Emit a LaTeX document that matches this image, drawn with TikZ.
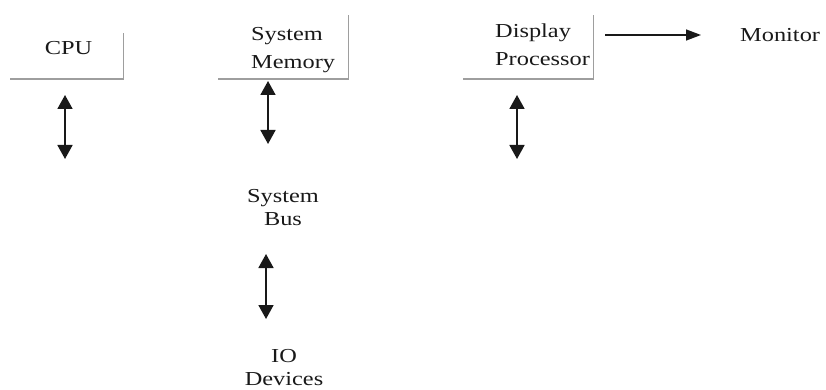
\documentclass[tikz,border=0pt]{standalone}
\usepackage{fontspec}
\setmainfont{Liberation Serif}[FakeStretch=1.23]
\usetikzlibrary{arrows.meta}
\begin{document}
\begin{tikzpicture}[x=1pt,y=-1pt,
  boxline/.style={draw=black!38, line width=1.4pt},
  boxarea/.style={inner sep=0pt, anchor=south west},
  lbl/.style={inner sep=0pt, font=\fontsize{19.8}{28}\selectfont, text=black!90},
  dbl/.style={{Triangle[width=15pt,length=14pt]}-{Triangle[width=15pt,length=14pt]}, line width=1.8pt, draw=black!90},
  sgl/.style={-{Triangle[width=11pt,length=15pt]}, line width=1.4pt, draw=black!90}
]
\useasboundingbox (0,0) rectangle (826,390);
% boxes (only right and bottom edges shown)
\node[boxarea, minimum width=113pt, minimum height=46pt] (cpubox) at (10,79) {};
\node[boxarea, minimum width=130pt, minimum height=64pt] (membox) at (218,79) {};
\node[boxarea, minimum width=130pt, minimum height=64pt] (dpbox) at (463,79) {};
\draw[boxline] (cpubox.south west) -- (cpubox.south east) -- (cpubox.north east);
\draw[boxline] (membox.south west) -- (membox.south east) -- (membox.north east);
\draw[boxline] (dpbox.south west) -- (dpbox.south east) -- (dpbox.north east);
% labels
\node[lbl, anchor=base] (cpu) at (68.5,55) {CPU};
\node[lbl, anchor=base west] (mem1) at (251,41) {System};
\node[lbl, anchor=base west] (mem2) at (251,69) {Memory};
\node[lbl, anchor=base west] (dp1) at (495,38) {Display};
\node[lbl, anchor=base west] (dp2) at (495,66) {Processor};
\node[lbl, anchor=base west] (mon) at (740,42) {Monitor};
\node[lbl, anchor=base] (bus1) at (283,202) {System};
\node[lbl, anchor=base] (bus2) at (283,225) {Bus};
\node[lbl, anchor=base] (io1) at (284,362) {IO};
\node[lbl, anchor=base] (io2) at (284,385) {Devices};
% arrow ends
\coordinate (a1t) at (65,95);  \coordinate (a1b) at (65,159);
\coordinate (a2t) at (268,81); \coordinate (a2b) at (268,144);
\coordinate (a3t) at (517,95); \coordinate (a3b) at (517,159);
\coordinate (a4t) at (266,254); \coordinate (a4b) at (266,319);
\coordinate (m1) at (605,35);  \coordinate (m2) at (701,35);
\draw[dbl] (a1t) -- (a1b);
\draw[dbl] (a2t) -- (a2b);
\draw[dbl] (a3t) -- (a3b);
\draw[dbl] (a4t) -- (a4b);
\draw[sgl] (m1) -- (m2);
\end{tikzpicture}
\end{document}
